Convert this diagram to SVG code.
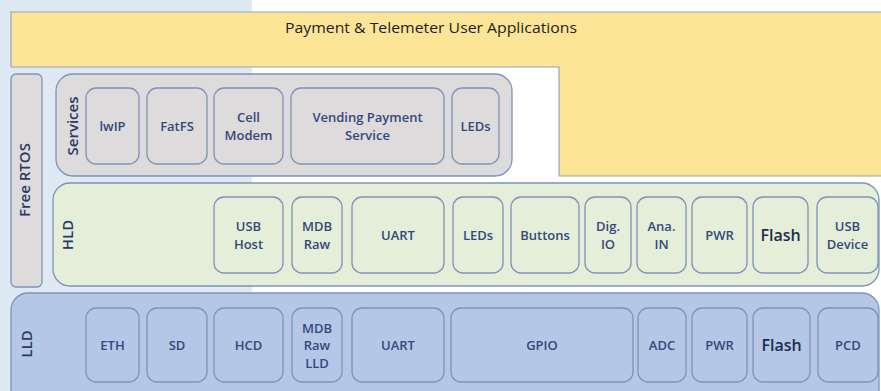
<svg xmlns="http://www.w3.org/2000/svg" width="881" height="391" viewBox="0 0 881 391">
<style>
text{font-family:"Open Sans","Liberation Sans",sans-serif;font-weight:600;text-anchor:middle}
.it{font-size:13px;fill:#34497a}
.fl{font-size:16px;fill:#1f2d4d}
.lbl{font-size:15px;fill:#2a3a66}
.box{stroke:#7f93b9;stroke-width:1.3}
.svc{fill:#dddbdb}
.hld{fill:#e4eed9}
.lld{fill:#b4c7e7}
</style>
<rect x="0" y="0" width="881" height="391" fill="#ffffff"/>
<rect x="0" y="0" width="252" height="391" fill="#dfe9f4"/>
<g id="apps">
<path d="M11 12 H885 V176 H559 V67 H11 Z" fill="#fce597" stroke="#98a3b8" stroke-width="1.2"/>
<text x="431" y="33" style="font-size:15px;fill:#1c1c1c;font-weight:500" textLength="292" lengthAdjust="spacingAndGlyphs">Payment &amp; Telemeter User Applications</text>
</g>
<g id="rtos">
<rect x="11" y="74" width="31" height="213" rx="5" fill="#dddbdb" class="box"/>
<text class="lbl" transform="translate(30 180) rotate(-90)">Free RTOS</text>
</g>
<g id="services">
<rect x="56" y="74" width="456" height="102" rx="17" class="box svc"/>
<text class="lbl" transform="translate(78 126) rotate(-90)">Services</text>
</g>
<g id="svc-lwip"><rect x="86" y="88" width="53" height="76" rx="10" class="box svc"/><text class="it" x="112.5" y="130.6">lwIP</text></g>
<g id="svc-fatfs"><rect x="147" y="88" width="60" height="76" rx="10" class="box svc"/><text class="it" x="177" y="130.6">FatFS</text></g>
<g id="svc-cell"><rect x="214" y="88" width="69" height="76" rx="10" class="box svc"/><text class="it" x="248.5" y="122">Cell</text><text class="it" x="248.5" y="139.5">Modem</text></g>
<g id="svc-vending"><rect x="291" y="88" width="153" height="76" rx="10" class="box svc"/><text class="it" x="367.5" y="122">Vending Payment</text><text class="it" x="367.5" y="139.5">Service</text></g>
<g id="svc-leds"><rect x="452" y="88" width="47" height="76" rx="10" class="box svc"/><text class="it" x="475.5" y="130.6">LEDs</text></g>
<g id="hld">
<rect x="53" y="183" width="826" height="103" rx="17" class="box hld"/>
<text class="lbl" transform="translate(72.5 235) rotate(-90)">HLD</text>
</g>
<g id="hld-usbhost"><rect x="214" y="197" width="69" height="76" rx="10" class="box hld"/><text class="it" x="248.5" y="231">USB</text><text class="it" x="248.5" y="248.5">Host</text></g>
<g id="hld-mdbraw"><rect x="292" y="197" width="50" height="76" rx="10" class="box hld"/><text class="it" x="317" y="231">MDB</text><text class="it" x="317" y="248.5">Raw</text></g>
<g id="hld-uart"><rect x="352" y="197" width="92" height="76" rx="10" class="box hld"/><text class="it" x="398" y="239.6">UART</text></g>
<g id="hld-leds"><rect x="453" y="197" width="50" height="76" rx="10" class="box hld"/><text class="it" x="478" y="239.6">LEDs</text></g>
<g id="hld-buttons"><rect x="511" y="197" width="68" height="76" rx="10" class="box hld"/><text class="it" x="545" y="239.6">Buttons</text></g>
<g id="hld-digio"><rect x="585" y="197" width="46" height="76" rx="10" class="box hld"/><text class="it" x="608" y="231">Dig.</text><text class="it" x="608" y="248.5">IO</text></g>
<g id="hld-anain"><rect x="637" y="197" width="49" height="76" rx="10" class="box hld"/><text class="it" x="661.5" y="231">Ana.</text><text class="it" x="661.5" y="248.5">IN</text></g>
<g id="hld-pwr"><rect x="692" y="197" width="55" height="76" rx="10" class="box hld"/><text class="it" x="719.5" y="239.6">PWR</text></g>
<g id="hld-flash"><rect x="753" y="197" width="55" height="76" rx="10" class="box hld"/><text class="fl" x="780.5" y="240.8">Flash</text></g>
<g id="hld-usbdev"><rect x="817" y="197" width="61" height="76" rx="10" class="box hld"/><text class="it" x="847.5" y="231">USB</text><text class="it" x="847.5" y="248.5">Device</text></g>
<g id="lld">
<rect x="11" y="293" width="868" height="120" rx="17" class="box lld"/>
<text class="lbl" transform="translate(32 344) rotate(-90)">LLD</text>
</g>
<g id="lld-eth"><rect x="86" y="308" width="53" height="74" rx="10" class="box lld"/><text class="it" x="112.5" y="349.6">ETH</text></g>
<g id="lld-sd"><rect x="147" y="308" width="60" height="74" rx="10" class="box lld"/><text class="it" x="177" y="349.6">SD</text></g>
<g id="lld-hcd"><rect x="214" y="308" width="69" height="74" rx="10" class="box lld"/><text class="it" x="248.5" y="349.6">HCD</text></g>
<g id="lld-mdbraw"><rect x="292" y="308" width="50" height="74" rx="10" class="box lld"/><text class="it" x="317" y="332.5">MDB</text><text class="it" x="317" y="350">Raw</text><text class="it" x="317" y="367.5">LLD</text></g>
<g id="lld-uart"><rect x="352" y="308" width="92" height="74" rx="10" class="box lld"/><text class="it" x="398" y="349.6">UART</text></g>
<g id="lld-gpio"><rect x="451" y="308" width="182" height="74" rx="10" class="box lld"/><text class="it" x="542" y="349.6">GPIO</text></g>
<g id="lld-adc"><rect x="638" y="308" width="48" height="74" rx="10" class="box lld"/><text class="it" x="662" y="349.6">ADC</text></g>
<g id="lld-pwr"><rect x="692" y="308" width="55" height="74" rx="10" class="box lld"/><text class="it" x="719.5" y="349.6">PWR</text></g>
<g id="lld-flash"><rect x="753" y="308" width="57" height="74" rx="10" class="box lld"/><text class="fl" x="781.5" y="350.8">Flash</text></g>
<g id="lld-pcd"><rect x="818" y="308" width="60" height="74" rx="10" class="box lld"/><text class="it" x="848" y="349.6">PCD</text></g>
</svg>
